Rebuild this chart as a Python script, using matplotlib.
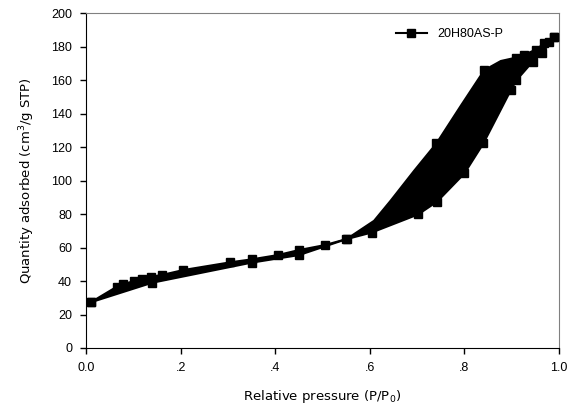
import matplotlib
matplotlib.use("Agg")
import matplotlib.pyplot as plt

# adsorption branch (lower)
ads_p = [0.01, 0.14, 0.35, 0.45, 0.55, 0.604, 0.702, 0.742, 0.80, 0.84, 0.898, 0.91, 0.944, 0.965, 0.99]
ads_q = [27.3, 39.0, 51.0, 55.5, 65.0, 69.0, 79.8, 87.4, 104.3, 122.2, 154.0, 160.0, 171.0, 176.3, 186.0]

# desorption branch (upper); some points sit inside the black loop and show no marker
des_p = [0.99, 0.979, 0.969, 0.951, 0.925, 0.909, 0.877, 0.842, 0.793, 0.741, 0.694, 0.644, 0.609,
         0.551, 0.505, 0.45, 0.405, 0.351, 0.305, 0.206, 0.16, 0.137, 0.119, 0.102, 0.079, 0.065, 0.01]
des_q = [186.0, 183.0, 182.0, 178.3, 175.0, 173.5, 171.5, 166.0, 145.0, 122.3, 106.0, 88.0, 76.0,
         65.1, 61.5, 58.5, 55.5, 53.0, 51.2, 46.6, 43.6, 42.6, 41.0, 40.0, 38.2, 36.6, 27.3]
des_hidden = [0.877, 0.793, 0.694, 0.644, 0.609]

xticks = [0.0, 0.2, 0.4, 0.6, 0.8, 1.0]
xticklabels = ["0.0", ".2", ".4", ".6", ".8", "1.0"]
yticks = list(range(0, 201, 20))

fig = plt.figure(figsize=(5.71, 4.16), dpi=100)
ax = fig.add_axes([86 / 571, 1 - 348 / 416, (559 - 86) / 571, (348 - 13.3) / 416])

# hysteresis loop filled black
ax.fill(ads_p + des_p, ads_q + des_q, color="black", lw=0, zorder=2)
ax.plot(ads_p, ads_q, "-s", color="black", lw=1.5, ms=5.5, zorder=3, label="20H80AS-P")
des_marks = [k for k, p in enumerate(des_p) if p not in des_hidden]
ax.plot(des_p, des_q, "-s", color="black", lw=1.5, ms=5.5, zorder=3, markevery=des_marks)

ax.set_xlim(0, 1)
ax.set_ylim(0, 200)
ax.set_xticks(xticks)
ax.set_xticklabels(xticklabels, family="Liberation Sans", fontsize=9)
ax.set_yticks(yticks)
ax.set_yticklabels([str(v) for v in yticks], family="Liberation Sans", fontsize=9)
ax.tick_params(direction="out", length=4, width=1, pad=6)

for side in ["top", "right"]:
    ax.spines[side].set_color("#808080")
for side in ["left", "bottom"]:
    ax.spines[side].set_color("black")

ax.set_xlabel("Relative pressure (P/P$_0$)", family="DejaVu Sans", fontsize=9.5, labelpad=10)
ax.set_ylabel("Quantity adsorbed (cm$^3$/g STP)", family="DejaVu Sans", fontsize=9.5, labelpad=10)

leg = ax.legend(loc="upper right", frameon=False, handlelength=2.5,
                prop={"family": "Liberation Sans", "size": 9},
                bbox_to_anchor=(0.905, 0.99))

fig.savefig("out.png", dpi=100)
